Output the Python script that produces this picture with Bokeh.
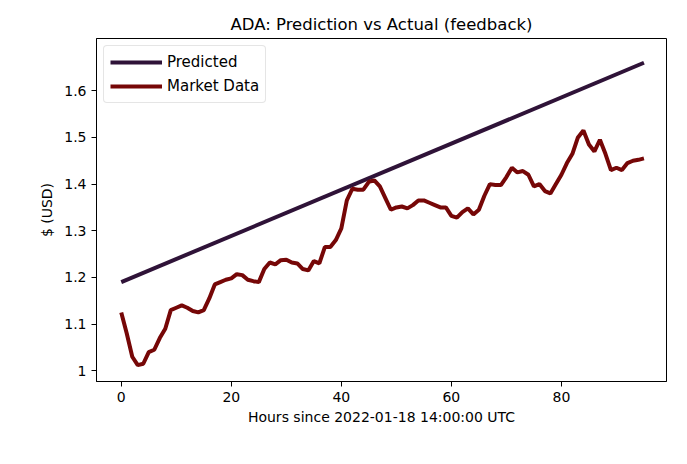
from bokeh.plotting import figure
from bokeh.models import Range1d, FixedTicker, Legend, LegendItem, Title
from bokeh.embed import file_html
from bokeh.resources import INLINE

pred_hours = [0, 95]
pred_values = [1.19, 1.66]

market_values = [
    1.125, 1.08, 1.03, 1.012, 1.015, 1.04, 1.045, 1.07, 1.09, 1.13,
    1.135, 1.14, 1.135, 1.128, 1.125, 1.13, 1.155, 1.185, 1.19, 1.195,
    1.198, 1.207, 1.205, 1.195, 1.192, 1.19, 1.218, 1.232, 1.228, 1.237,
    1.238, 1.232, 1.23, 1.218, 1.215, 1.235, 1.23, 1.265, 1.265, 1.28,
    1.305, 1.365, 1.39, 1.388, 1.388, 1.405, 1.408, 1.395, 1.37, 1.345,
    1.35, 1.352, 1.348, 1.355, 1.365, 1.365, 1.36, 1.355, 1.35, 1.35,
    1.332, 1.328, 1.34, 1.348, 1.335, 1.345, 1.375, 1.4, 1.398, 1.398,
    1.415, 1.435, 1.425, 1.428, 1.42, 1.395, 1.4, 1.385, 1.38, 1.4,
    1.42, 1.445, 1.465, 1.5, 1.515, 1.485, 1.47, 1.495, 1.465, 1.43,
    1.435, 1.43, 1.445, 1.45, 1.452, 1.455,
]
market_hours = list(range(len(market_values)))

x_ticks = [0, 20, 40, 60, 80]
y_ticks = [1.0, 1.1, 1.2, 1.3, 1.4, 1.5, 1.6]
y_labels = ["1", "1.1", "1.2", "1.3", "1.4", "1.5", "1.6"]

font = "DejaVu Sans"

p = figure(width=670, height=448, output_backend="svg", toolbar_location=None,
           x_range=Range1d(-4.5, 99.1), y_range=Range1d(0.977, 1.712),
           min_border_left=96, min_border_right=4, min_border_top=38,
           min_border_bottom=67)
p.title = Title(text="ADA: Prediction vs Actual (feedback)", align="center",
                text_font=font, text_font_style="normal", text_color="black")
p.title.text_font_size = "16.5px"
p.grid.visible = False
p.outline_line_color = "black"

p.xaxis.ticker = FixedTicker(ticks=x_ticks)
p.yaxis.ticker = FixedTicker(ticks=y_ticks)
p.yaxis.major_label_overrides = {t: l for t, l in zip(y_ticks, y_labels)}
p.xaxis.axis_label = "Hours since 2022-01-18 14:00:00 UTC"
p.yaxis.axis_label = "$ (USD)"
for ax in (p.xaxis, p.yaxis):
    ax.axis_label_text_font = font
    ax.axis_label_text_font_size = "14px"
    ax.axis_label_text_font_style = "normal"
    ax.axis_label_text_color = "black"
    ax.major_label_text_font = font
    ax.major_label_text_font_size = "14px"
    ax.major_label_text_color = "black"
    ax.minor_tick_line_color = None
    ax.major_tick_out = 5
    ax.major_tick_in = 0
    ax.axis_line_color = "black"
    ax.major_tick_line_color = "black"
p.xaxis.axis_label_standoff = 4
p.yaxis.axis_label_standoff = 6

r1 = p.line(pred_hours, pred_values, line_width=4, color="#2f1338")
r2 = p.line(market_hours, market_values, line_width=4, color="#760707")

legend = Legend(items=[LegendItem(label="Predicted", renderers=[r1]),
                       LegendItem(label="Market Data", renderers=[r2])],
                location="top_left", label_text_font=font,
                label_text_font_size="15px", label_text_color="black",
                border_line_color="#cccccc",
                border_radius=4, glyph_width=52, spacing=4, padding=6,
                margin=7, label_height=20, glyph_height=20)
p.add_layout(legend)

open("out.html", "w").write(file_html(p, INLINE))
